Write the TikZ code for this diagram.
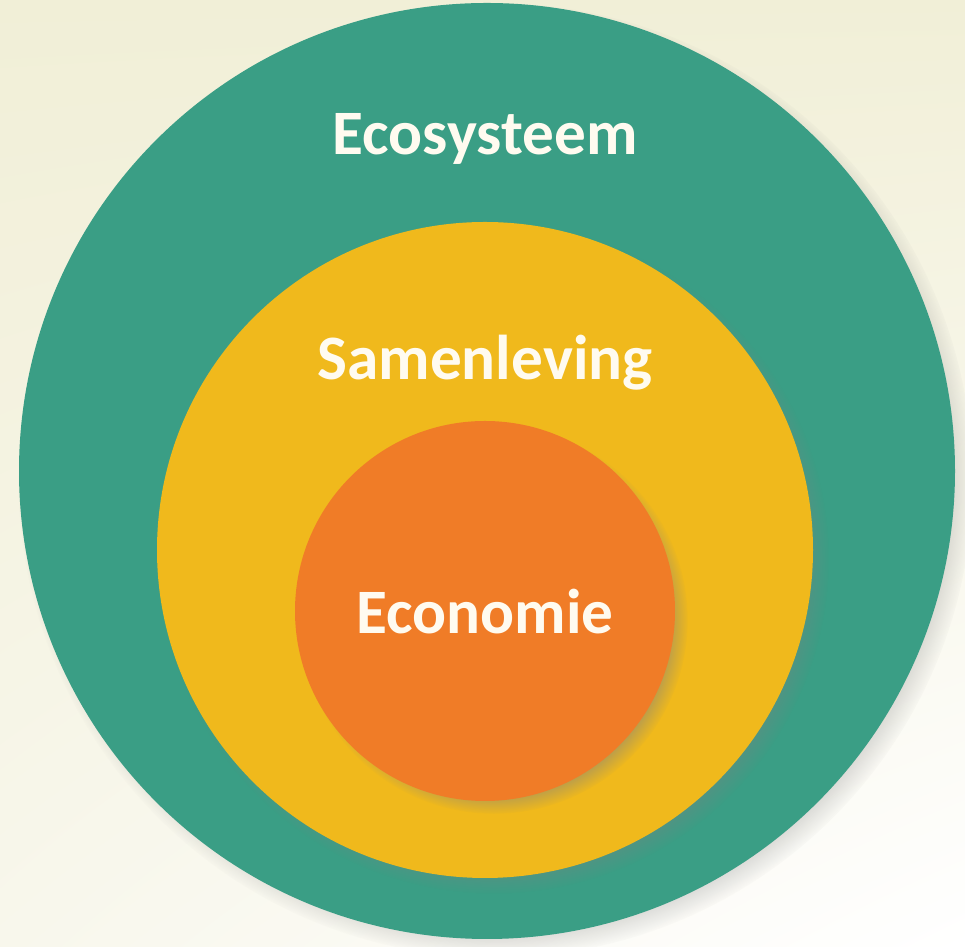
\documentclass[tikz,border=0pt]{standalone}
\usepackage{fontspec}
\setmainfont{Carlito}
\usetikzlibrary{shadows, shadings}
\definecolor{bgcream}{HTML}{F1EFD7}
\definecolor{bglight}{HTML}{F8F7EC}
\definecolor{ecoteal}{HTML}{3A9E85}
\definecolor{samyellow}{HTML}{F0B91C}
\definecolor{ecoorange}{HTML}{F07C27}
\definecolor{labelwhite}{HTML}{FFFBF0}
\begin{document}
\begin{tikzpicture}[ring/.style={circle, inner sep=0pt, circular drop shadow={shadow xshift=5pt, shadow yshift=-5pt, shadow scale=1.02, opacity=.75}}, ringlabel/.style={text=labelwhite, anchor=base, font=\bfseries\fontsize{36}{43}\selectfont}]
	\useasboundingbox (0, 0) rectangle (19.3, 18.94);
	\shade[upper left=bgcream, upper right=bgcream, lower left=bglight, lower right=white] (0, 0) rectangle (19.3, 18.94);
	\node[ring, fill=ecoteal, minimum size=18.72cm] at (9.74, 9.52) (ecosysteem) {};
	\node[ring, fill=samyellow, minimum size=13.12cm] at (9.70, 7.94) (samenleving) {};
	\node[ring, fill=ecoorange, minimum size=7.6cm] at (9.70, 6.72) (economie) {};
	\node[ringlabel] at (9.70, 15.84) (ecosysteem-text) {Ecosysteem};
	\node[ringlabel] at (9.70, 11.34) (samenleving-text) {Samenleving};
	\node[ringlabel] at (9.70, 6.26) (economie-text) {Economie};
\end{tikzpicture}
\end{document}
